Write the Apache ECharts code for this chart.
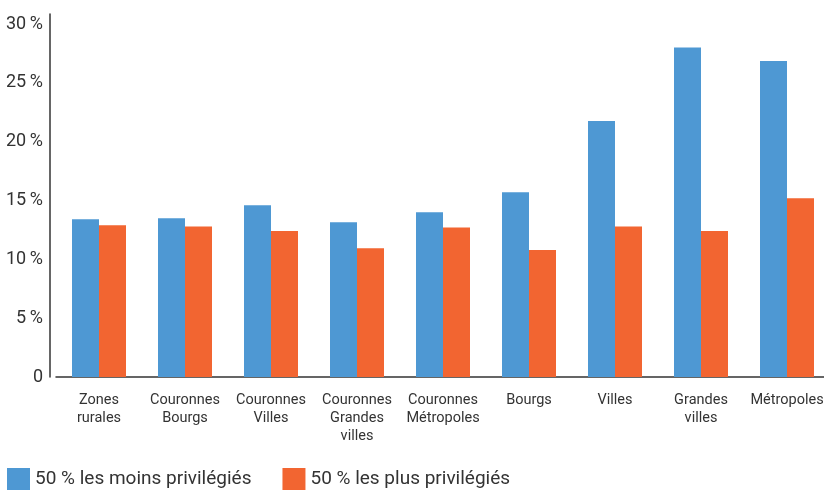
<!DOCTYPE html>
<html>
<head>
<meta charset="utf-8">
<script src="https://cdn.jsdelivr.net/npm/echarts@6/dist/echarts.min.js"></script>
<style>
  html, body { margin: 0; padding: 0; background: #fff; }
  #chart { width: 824px; height: 490px; }
</style>
</head>
<body>
<div id="chart"></div>
<script>
// Part of each territory type's population (%)
const categories = [
  'Zones\nrurales',
  'Couronnes\nBourgs',
  'Couronnes\nVilles',
  'Couronnes\nGrandes\nvilles',
  'Couronnes\nMétropoles',
  'Bourgs',
  'Villes',
  'Grandes\nvilles',
  'Métropoles'
];
const seriesNames = ['50 % les moins privilégiés', '50 % les plus privilégiés'];
const lessPrivileged = [13.4, 13.5, 14.6, 13.15, 14.0, 15.7, 21.75, 28.0, 26.85];
const morePrivileged = [12.9, 12.8, 12.4, 10.95, 12.7, 10.8, 12.8, 12.4, 15.2];
const yTicks = [0, 5, 10, 15, 20, 25, 30];

const FONT = '"Roboto", "Noto Sans", sans-serif';
const TEXT = '#333333';

const chart = echarts.init(document.getElementById('chart'), null, { renderer: 'canvas' });
chart.setOption({
  animation: false,
  grid: {
    left: 56, width: 774, top: 14, bottom: 113,
    containLabel: false,
    outerBoundsMode: 'none'
  },
  legend: {
    left: 2,
    top: 463,
    itemWidth: 23,
    itemHeight: 23,
    itemGap: 31,
    icon: 'rect',
    textStyle: { fontFamily: FONT, fontSize: 19, color: TEXT, padding: [2, 0, 0, 0] },
    data: seriesNames
  },
  xAxis: {
    type: 'category',
    data: categories,
    axisLine: { lineStyle: { color: '#333', width: 1.5 } },
    axisTick: { show: false },
    axisLabel: {
      interval: 0,
      margin: 14,
      fontFamily: FONT,
      fontSize: 14.5,
      lineHeight: 18,
      color: TEXT,
      align: 'center'
    }
  },
  yAxis: {
    type: 'value',
    min: 0,
    max: 30.85,
    interval: 5,
    offset: 6,
    splitLine: { show: false },
    axisTick: { show: false },
    axisLine: { show: true, lineStyle: { color: '#333', width: 1.5 } },
    axisLabel: {
      showMaxLabel: false,
      margin: 7,
      fontFamily: FONT,
      fontSize: 18,
      color: TEXT,
      formatter: v => (yTicks.includes(v) ? (v === 0 ? '0' : v + '\u2009%') : '')
    }
  },
  series: [
    {
      name: seriesNames[0],
      type: 'bar',
      data: lessPrivileged,
      barWidth: 27,
      barGap: '0%',
      itemStyle: { color: '#4E98D3' }
    },
    {
      name: seriesNames[1],
      type: 'bar',
      data: morePrivileged,
      barWidth: 27,
      barGap: '0%',
      itemStyle: { color: '#F26531' }
    }
  ]
});
</script>
</body>
</html>
